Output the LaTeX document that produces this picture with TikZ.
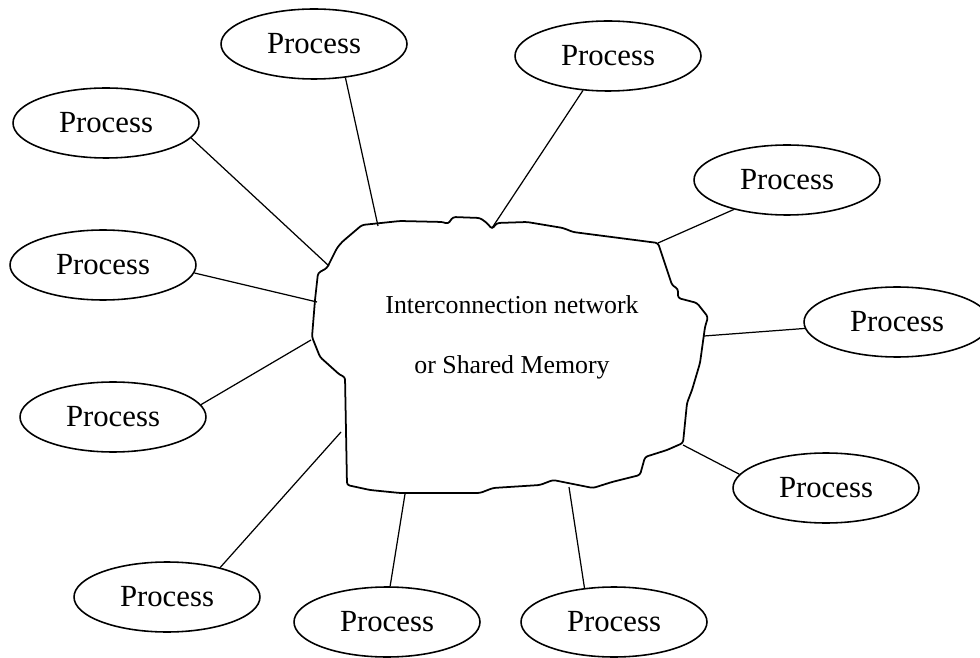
\documentclass[tikz,border=0pt]{standalone}
\usepackage{fontspec}
\setmainfont{Liberation Serif}
\usetikzlibrary{shapes.geometric,positioning}

\tikzset{
    proc/.style={ellipse, draw, line width=0.9pt, minimum width=3.72cm, minimum height=1.4cm,
        inner sep=0pt, font=\fontsize{17.5}{20}\selectfont},
    link/.style={line width=0.7pt},
    cloud/.style={line width=1pt, rounded corners=1.5pt}
}

\begin{document}
\begin{tikzpicture}[x=0.02cm, y=-0.02cm]
    \useasboundingbox (0,0) rectangle (980,658);

    \draw[cloud] (362,225) -- (400,221) -- (443,222) -- (448,224) -- (453,217) -- (480,218)
        -- (487,223) -- (492,229) -- (497,223) -- (527,222) -- (563,228) -- (573,232)
        -- (658,243) -- (667,270) -- (672,285) -- (678,289) -- (678,298) -- (697,303)
        -- (708,317) -- (705,327) -- (700,363) -- (692,390) -- (687,403) -- (683,443)
        -- (667,450) -- (645,457) -- (640,475) -- (612,482) -- (593,488) -- (553,480)
        -- (540,485) -- (493,488) -- (480,493) -- (443,493) -- (400,493) -- (370,490)
        -- (347,485) -- (345,377) -- (340,375) -- (320,357) -- (312,337) -- (315,300)
        -- (318,273) -- (327,268) -- (337,248) -- (342,242) -- cycle;

    \node[align=center, font=\fontsize{14.7}{34}\selectfont] (net) at (512,337)
        {Interconnection network\\or Shared Memory};

    \node[proc] (p1) at (314,44) {Process};
    \node[proc] (p2) at (608,56) {Process};
    \node[proc] (p3) at (106,123) {Process};
    \node[proc] (p4) at (787,180) {Process};
    \node[proc] (p5) at (103,265) {Process};
    \node[proc] (p6) at (897,322) {Process};
    \node[proc] (p7) at (113,417) {Process};
    \node[proc] (p8) at (826,488) {Process};
    \node[proc] (p9) at (167,597) {Process};
    \node[proc] (p10) at (387,622) {Process};
    \node[proc] (p11) at (614,622) {Process};

    \coordinate (c1) at (378,226);
    \coordinate (c2) at (492,228);
    \coordinate (c3) at (329,266);
    \coordinate (c4) at (658,243);
    \coordinate (c5) at (317,302);
    \coordinate (c6) at (704,336);
    \coordinate (c7) at (311,340);
    \coordinate (c8) at (683,445);
    \coordinate (c9) at (341,432);
    \coordinate (c10) at (405,494);
    \coordinate (c11) at (569,487);

    \draw[link] (p1.-47) -- (c1);
    \draw[link] (p2.-126) -- (c2);
    \draw[link] (p3.-10) -- (c3);
    \draw[link] (p4.-151) -- (c4);
    \draw[link] (p5.-5) -- (c5);
    \draw[link] (p6.184) -- (c6);
    \draw[link] (p7.8) -- (c7);
    \draw[link] (p8.171) -- (c8);
    \draw[link] (p9.29) -- (c9);
    \draw[link] (p10.85) -- (c10);
    \draw[link] (p11.131) -- (c11);
\end{tikzpicture}
\end{document}
